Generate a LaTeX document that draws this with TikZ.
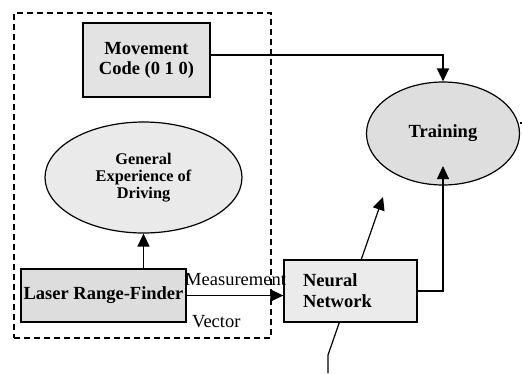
\documentclass[tikz,border=0pt]{standalone}
\usepackage{fontspec}
\setmainfont{Liberation Serif}
\usetikzlibrary{arrows.meta,shapes.geometric}
\definecolor{fillA}{HTML}{E3E3E3}
\definecolor{fillB}{HTML}{DDDDDD}
\definecolor{fillC}{HTML}{EAEAEA}
\definecolor{fillD}{HTML}{DEDEDE}
\definecolor{fillE}{HTML}{EBEBEB}
\begin{document}
\begin{tikzpicture}[x=1pt,y=-1pt,
 arr/.style={draw=black, line width=1.2pt, -{Triangle[length=13pt,width=12pt]}},
 ln/.style={draw=black, line width=1.2pt},
 boxn/.style={draw=black, line width=1.3pt, rectangle, inner sep=0pt, font=\bfseries\fontsize{18.5}{20}\selectfont, align=center},
 elln/.style={draw=black, line width=1.2pt, ellipse, inner sep=0pt},
 lbl/.style={font=\fontsize{18.5}{20}\selectfont, inner sep=0pt, anchor=base west}]
\useasboundingbox (0,0) rectangle (522,373);
% dashed frame
\node[draw=black, dashed, dash pattern=on 6pt off 4pt, line width=1.2pt, minimum width=257pt, minimum height=325pt, inner sep=0pt] (frame) at (142.5,175.5) {};
% diagonal line passing behind the Neural Network box
\coordinate (d1) at (328,373);
\coordinate (d2) at (328,355);
\coordinate (d3) at (383,197);
\draw[arr] (d1) -- (d2) -- (d3);
% nodes
\node[boxn, fill=fillA, minimum width=127pt, minimum height=74pt] (MC) at (146.5,60) {Movement\\Code (0 1 0)};
\node[elln, fill=fillC, minimum width=197pt, minimum height=111pt, font=\bfseries\fontsize{16.3}{16.7}\selectfont, align=center] (GE) at (143.5,177.5) {General\\Experience of\\Driving};
\node[boxn, fill=fillB, minimum width=165pt, minimum height=53pt] (LRF) at (103.5,295.5) {Laser Range-Finder};
\node[boxn, fill=fillE, minimum width=133pt, minimum height=62pt, text width=95pt, inner xsep=19pt, align=left, font=\bfseries\fontsize{18.5}{21}\selectfont] (NN) at (350.5,291) {Neural\\Network};
\node[elln, fill=fillD, minimum width=153pt, minimum height=103pt, font=\bfseries\fontsize{18.5}{20}\selectfont] (T) at (443,133.5) {Training};
% connectors
\draw[arr] (GE.south |- LRF.north) -- (GE.south);
\draw[arr] (LRF.east) -- (NN.west |- LRF.east);
\draw[arr] ([yshift=5pt]MC.east) -| (T.north);
\coordinate (tip2) at (443,166);
\draw[arr] (NN.east) -| (tip2);
\coordinate (stubend) at (522,123);
\draw[ln] (stubend -| T.east) -- (stubend);
% labels
\node[lbl] (meas) at (185,285) {Measurement};
\node[lbl] (vect) at (192,327) {Vector};
\end{tikzpicture}
\end{document}
